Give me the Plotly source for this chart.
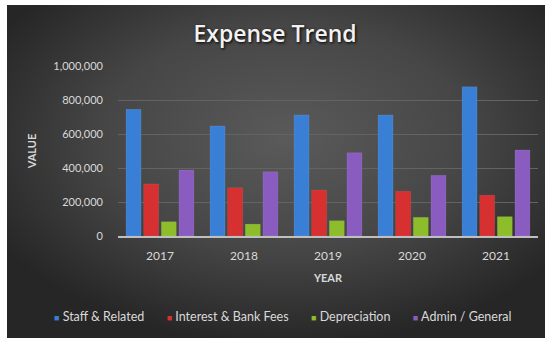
import base64
import plotly.graph_objects as go

# Annual expense totals by category
years = ["2017", "2018", "2019", "2020", "2021"]
staff_related = [745000, 647000, 712000, 712000, 878000]
interest_bank_fees = [306000, 284000, 270000, 263000, 240000]
depreciation = [84000, 70000, 90000, 110000, 114000]
admin_general = [388000, 378000, 490000, 357000, 506000]

series = [
    ("Staff & Related", staff_related, "#3a7fd6"),
    ("Interest & Bank Fees", interest_bank_fees, "#d63031"),
    ("Depreciation", depreciation, "#8dbd2a"),
    ("Admin / General", admin_general, "#8a5cc0"),
]

W, H = 550, 341
L, R, T, B = 118, 12, 66, 105
plot_w = W - L - R
plot_h = H - T - B

# Dark radial-gradient chart backdrop
svg = f"""<svg xmlns='http://www.w3.org/2000/svg' width='540' height='334' viewBox='0 0 540 334' preserveAspectRatio='none'>
<defs><radialGradient id='g' cx='52%' cy='40%' r='62%'>
<stop offset='0%' stop-color='#5a5a5a'/>
<stop offset='55%' stop-color='#464646'/>
<stop offset='100%' stop-color='#262626'/>
</radialGradient></defs>
<rect width='540' height='334' fill='url(#g)'/>
</svg>"""
bg_src = "data:image/svg+xml;base64," + base64.b64encode(svg.encode()).decode()

bx0, bx1, by0, by1 = 7, 545, 5, 338
img_x = (bx0 - L) / plot_w
img_w = (bx1 - bx0) / plot_w
img_y = (H - B - by0) / plot_h
img_h = (by1 - by0) / plot_h

fig = go.Figure()
for name, vals, color in series:
    fig.add_trace(go.Bar(
        x=years, y=vals, name=name, showlegend=False,
        marker=dict(color=color, line=dict(color="rgba(255,255,255,0.15)", width=0.5)),
    ))

# Compact legend row: small coloured square followed by the series name
gap = "&nbsp;" * 7
legend_text = gap.join(
    f"<span style='color:{color};font-size:9px'>■</span> {name}"
    for name, _, color in series
)

fig.update_layout(
    width=W, height=H,
    margin=dict(l=L, r=R, t=T, b=B),
    paper_bgcolor="white",
    plot_bgcolor="rgba(0,0,0,0)",
    barmode="group",
    bargap=0.16,
    bargroupgap=0.15,
    font=dict(family="Lato, sans-serif", color="#d9d9d9"),
    title=dict(
        text="Expense Trend",
        x=0.5, xref="container", xanchor="center",
        y=1 - 34 / H, yref="container", yanchor="middle",
        font=dict(family="Open Sans, sans-serif", size=23, color="#f2f2f2",
                  weight=600, shadow="1px 1px 3px #000"),
    ),
    images=[dict(
        source=bg_src, xref="paper", yref="paper",
        x=img_x, y=img_y, sizex=img_w, sizey=img_h,
        xanchor="left", yanchor="top", sizing="stretch", layer="below",
    )],
    annotations=[dict(
        text=legend_text, showarrow=False,
        xref="paper", yref="paper",
        x=(283 - L) / plot_w, y=(H - B - 316) / plot_h,
        xanchor="center", yanchor="middle",
        font=dict(family="Lato, sans-serif", size=12.5, color="#d9d9d9"),
    )],
    xaxis=dict(
        showgrid=False,
        showline=True, linecolor="#bfbfbf", linewidth=1.5,
        ticks="", tickfont=dict(size=12, color="#d9d9d9"),
        ticklabelstandoff=8,
        title=dict(text="<b>YEAR</b>", font=dict(size=11, color="#d9d9d9"), standoff=12),
    ),
    yaxis=dict(
        range=[0, 1000000],
        tickvals=[0, 200000, 400000, 600000, 800000, 1000000],
        tickformat=",d",
        showgrid=True, gridcolor="#636363", gridwidth=1,
        zeroline=False,
        ticks="", tickfont=dict(size=11, color="#d9d9d9"),
        ticklabelstandoff=14,
        title=dict(text="<b>VALUE</b>", font=dict(size=11, color="#d9d9d9"), standoff=14),
    ),
)

fig.write_html("out.html")
